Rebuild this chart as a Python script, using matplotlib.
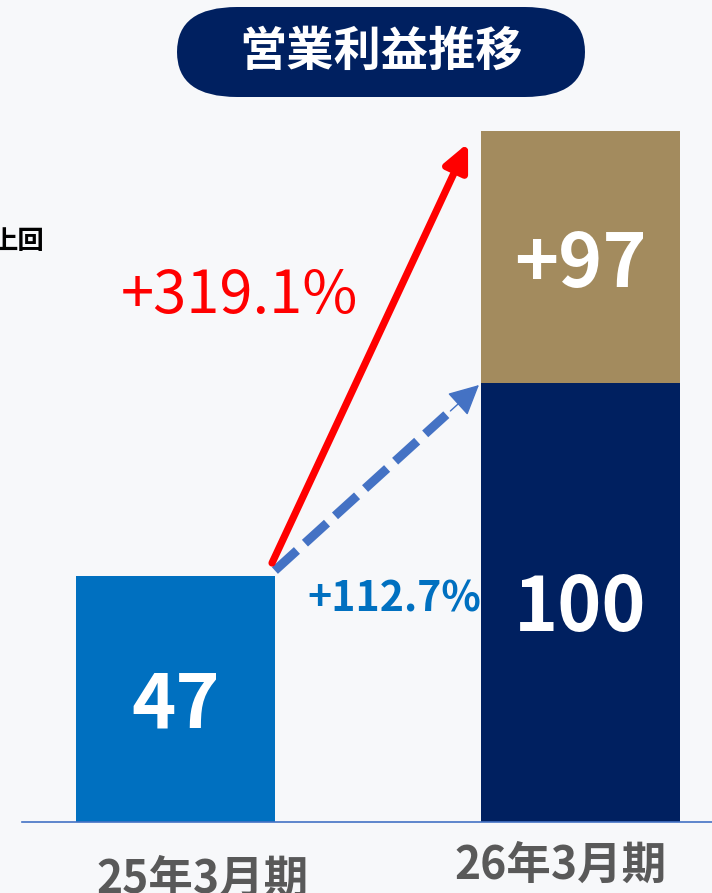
import numpy as np
import matplotlib
matplotlib.use('Agg')
import matplotlib.pyplot as plt
from matplotlib.patches import FancyBboxPatch

plt.rcParams['font.family'] = ['Noto Sans CJK JP', 'DejaVu Sans']

# Data
periods = ['25年3月期', '26年3月期']
base_values = [47, 100]          # label values of the lower bars
added_value = 97                 # label value of the stacked part
# drawn bar heights as they appear on the slide (not to scale with labels)
base_heights = [24.6, 43.9]
added_height = 25.2
growth_total = '+319.1%'
growth_base = '+112.7%'
title = '営業利益推移'
side_note = '上回'

bg = '#f7f8fa'
c_prev = '#0070c0'
c_base = '#002060'
c_add = '#a38b5e'

fig = plt.figure(figsize=(7.12, 8.93), dpi=100, facecolor=bg)
ax = fig.add_axes([22 / 712, 71 / 893, 690 / 712, 822 / 893])
ax.set_facecolor(bg)

x = np.arange(len(periods))
width = 0.491
ax.bar(x[0], base_heights[0], width, color=c_prev)
ax.bar(x[1], base_heights[1], width, color=c_base)
ax.bar(x[1], added_height, width, bottom=base_heights[1], color=c_add)

ax.set_xlim(-0.379, 1.325)
ax.set_ylim(0, 82.2)
for s in ['top', 'right', 'left']:
    ax.spines[s].set_visible(False)
ax.spines['bottom'].set_color('#4472c4')
ax.spines['bottom'].set_linewidth(1.2)
ax.set_xticks([])
ax.set_yticks([])

# value labels
ax.text(x[0], base_heights[0] * 0.475, str(base_values[0]), ha='center', va='center',
        color='white', fontsize=54, fontweight='bold')
ax.text(x[1], base_heights[1] * 0.485, str(base_values[1]), ha='center', va='center',
        color='white', fontsize=54, fontweight='bold')
ax.text(x[1], base_heights[1] + added_height * 0.47, f'+{added_value}', ha='center',
        va='center', color='white', fontsize=54, fontweight='bold')

# arrows from the 25/3 bar to the 26/3 bar
x0 = x[0] + width / 2
x1 = x[1] - width / 2
top0 = base_heights[0]
top1 = base_heights[1] + added_height

# red solid arrow
ax.annotate('', xy=(x1 - 0.032, top1 - 1.2), xytext=(x0 - 0.007, top0 + 1.3),
            arrowprops=dict(arrowstyle='-|>,head_length=1.6,head_width=0.75',
                            color='#ff0000', lw=5.2, shrinkA=0, shrinkB=0))

# blue dashed arrow: dashed shaft plus a solid head
bx0, by0 = x0, top0 + 0.55
bx1, by1 = x1 - 0.005, base_heights[1] - 0.2
frac = 0.84
ax.plot([bx0, bx0 + (bx1 - bx0) * frac], [by0, by0 + (by1 - by0) * frac],
        color='#4472c4', lw=6.5, dashes=(3.3, 1.2), solid_capstyle='butt',
        dash_capstyle='butt')
ax.annotate('', xy=(bx1, by1), xytext=(bx0 + (bx1 - bx0) * 0.86, by0 + (by1 - by0) * 0.86),
            arrowprops=dict(arrowstyle='-|>,head_length=1.9,head_width=0.95',
                            color='#4472c4', lw=1.0, shrinkA=0, shrinkB=0))

# growth labels
ax.text(0.158, 52.5, growth_total, ha='center', va='center', color='#ff0000',
        fontsize=43)
ax.text(0.541, 22.3, growth_base, ha='center', va='center', color='#0070c0',
        fontsize=29.5, fontweight='bold')

# period labels
ax.text(x[0] + 0.068, -5.8, periods[0], ha='center', va='center', color='#595959',
        fontsize=32, fontweight='bold', clip_on=False)
ax.text(x[1] - 0.05, -4.4, periods[1], ha='center', va='center', color='#595959',
        fontsize=32, fontweight='bold', clip_on=False)

# title pill
pill = FancyBboxPatch((1.77, 7.96), 4.08, 0.90,
                      boxstyle='round,pad=0,rounding_size=0.6', mutation_aspect=0.75,
                      transform=fig.dpi_scale_trans, facecolor='#002060',
                      edgecolor='none')
fig.add_artist(pill)
fig.text(381 / 712, 1 - 52 / 893, title, ha='center', va='center', color='white',
         fontsize=34, fontweight='bold')

# partially cut note at the left edge
fig.text(45 / 712, 1 - 242 / 893, side_note, ha='right', va='center', color='black',
         fontsize=19, fontweight='bold')

fig.savefig('out.png', dpi=100, facecolor=bg)
